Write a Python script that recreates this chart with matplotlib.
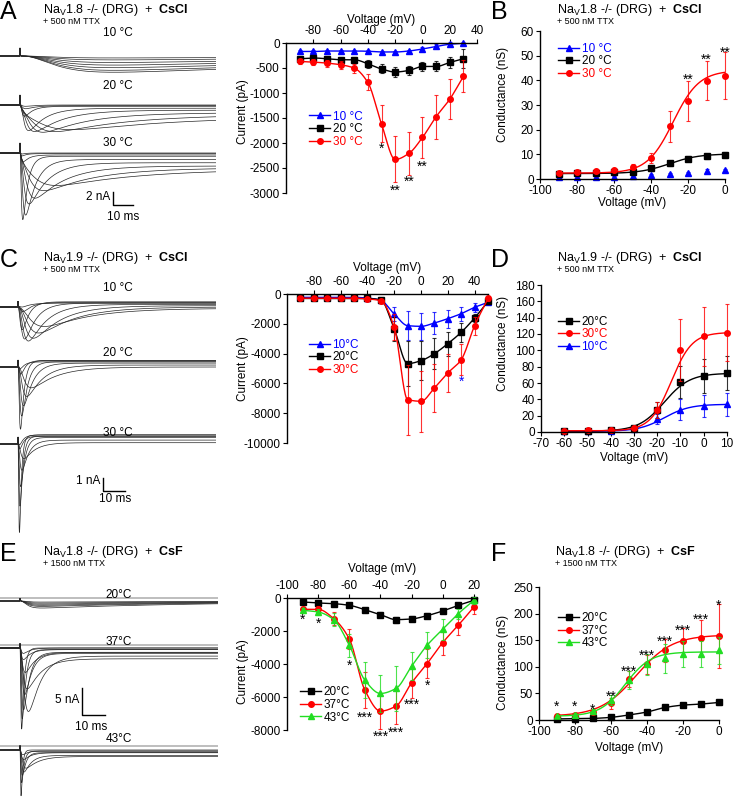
import numpy as np
import matplotlib
matplotlib.use("Agg")
import matplotlib.pyplot as plt
from matplotlib.lines import Line2D

plt.rcParams.update({
    "font.family": ["Liberation Sans", "DejaVu Sans"],
    "font.size": 8,
    "mathtext.fontset": "custom",
    "mathtext.rm": "Liberation Sans",
    "mathtext.bf": "Liberation Sans:bold",
    "mathtext.it": "Liberation Sans:italic",
    "axes.unicode_minus": False,
    "axes.linewidth": 1.0,
    "xtick.major.size": 3, "ytick.major.size": 3,
    "xtick.major.pad": 1.5, "ytick.major.pad": 1.5,
})

# ---------------- data: current-voltage (pA) ----------------
a_v = [-90, -80, -70, -60, -50, -40, -30, -20, -10, 0, 10, 20, 30]
a_i10 = [-170, -170, -160, -160, -160, -165, -180, -180, -160, -120, -70, -25, -5]
a_i10_err = [20, 20, 20, 20, 20, 20, 25, 25, 25, 30, 40, 40, 30]
a_i20 = [-315, -300, -315, -335, -335, -415, -520, -580, -550, -470, -470, -390, -315]
a_i20_err = [40, 40, 40, 50, 60, 80, 90, 100, 90, 90, 100, 110, 190]
a_i30 = [-368, -382, -402, -435, -502, -790, -1620, -2330, -2210, -1890, -1475, -1125, -670]
a_i30_err = [50, 60, 70, 80, 90, 160, 370, 460, 430, 410, 440, 400, 320]
a_star_v = [-30, -20, -10, 0]
a_star_y = [-2056, -2880, -2712, -2398]
a_star_txt = ["*", "**", "**", "**"]

c_v = [-90, -80, -70, -60, -50, -40, -30, -20, -10, 0, 10, 20, 30, 40, 50]
c_i10 = [-224, -224, -224, -224, -224, -270, -425, -1340, -2125, -2170, -1946, -1655, -1320, -895, -560]
c_i10_err = [50, 50, 50, 50, 50, 60, 100, 500, 980, 900, 760, 600, 480, 280, 120]
c_i20 = [-300, -300, -300, -300, -300, -300, -400, -2350, -4675, -4475, -4005, -3335, -2570, -1610, -500]
c_i20_err = [50, 50, 50, 50, 50, 60, 100, 800, 1500, 1300, 1050, 800, 650, 300, 150]
c_i30 = [-280, -280, -280, -280, -280, -330, -450, -2215, -7090, -7200, -6310, -5300, -4410, -2125, -300]
c_i30_err = [50, 50, 50, 50, 60, 80, 120, 900, 2350, 2050, 1600, 1250, 1050, 600, 150]
c_star_v = [30]
c_star_y = [-5680]
c_star_txt = ["*"]

e_v = [-90, -80, -70, -60, -50, -40, -30, -20, -10, 0, 10, 20]
e_i20 = [-242, -302, -343, -443, -706, -1008, -1310, -1270, -1068, -786, -443, -141]
e_i20_err = [60, 60, 80, 80, 120, 150, 180, 150, 130, 120, 100, 80]
e_i37 = [-685, -685, -1250, -2480, -5585, -6855, -6552, -5141, -3972, -2702, -1653, -544]
e_i37_err = [150, 200, 400, 600, 1100, 1100, 1100, 900, 900, 750, 600, 400]
e_i43 = [-746, -847, -1310, -2863, -4980, -5786, -5484, -4133, -2863, -1895, -948, -141]
e_i43_err = [150, 200, 400, 700, 1100, 1100, 1350, 850, 800, 650, 300, 200]
e_star_v = [-90, -80, -60, -50, -40, -30, -20, -10]
e_star_y = [-1110, -1350, -3870, -7056, -8200, -7960, -6290, -5080]
e_star_txt = ["*", "*", "*", "***", "***", "***", "***", "*"]

# ---------------- data: conductance-voltage (nS) ----------------
b_v = [-90, -80, -70, -60, -50, -40, -30, -20, -10, 0]
b_g10 = [0.7, 0.7, 0.8, 0.9, 1.2, 1.6, 1.9, 2.3, 3.3, 3.5]
b_g10_err = [0.4, 0.4, 0.4, 0.4, 0.5, 0.5, 0.5, 0.5, 0.6, 0.6]
b_g20 = [2.2, 2.3, 2.5, 2.7, 3.0, 4.3, 6.3, 8.3, 9.3, 9.8]
b_g20_err = [0.4, 0.4, 0.5, 0.5, 0.6, 0.8, 1.0, 1.0, 1.0, 1.2]
b_g30 = [2.4, 2.8, 3.2, 3.6, 5.0, 8.6, 21.3, 31.7, 39.9, 41.8]
b_g30_err = [0.5, 0.6, 0.7, 0.8, 1.0, 2.0, 6.2, 8.2, 8.0, 9.5]
b_fit20 = (2.2, 10.2, -30, 8)      # gmin, gmax, V1/2, k
b_fit30 = (2.4, 44, -28, 7)
b_star_v = [-20, -10, 0]
b_star_y = [41.8, 49.7, 52.6]
b_star_txt = ["**", "**", "**"]

d_v = [-60, -50, -40, -30, -20, -10, 0, 10]
d_g20 = [1.5, 1.8, 2.5, 5.5, 27, 61.4, 68.3, 72]
d_g20_err = [0.5, 0.5, 0.8, 1.5, 10, 20, 21, 21]
d_g30 = [1.6, 2.0, 2.9, 5.3, 26.6, 100.7, 117, 121.5]
d_g30_err = [0.5, 0.6, 0.8, 1.5, 10, 38, 36, 35]
d_g10 = [0.8, 0.9, 1.5, 3.8, 16.4, 27.4, 31.9, 34]
d_g10_err = [0.3, 0.3, 0.5, 1, 6, 13, 14, 14]
d_fit20 = (1, 72, -17, 5.5)
d_fit30 = (1.5, 122, -14, 4.5)
d_fit10 = (0.8, 34, -17, 5.5)

f_v = [-90, -80, -70, -60, -50, -40, -30, -20, -10, 0]
f_g20 = [2, 2.5, 3, 5, 9.5, 15, 23.5, 28, 30, 33]
f_g20_err = [1, 1, 1, 1.5, 2, 2, 3, 3, 3.5, 4]
f_g37 = [7, 9.4, 14.4, 31.4, 76.6, 104.9, 130.7, 147.6, 155, 157.7]
f_g37_err = [2, 2.5, 4, 10, 15, 18, 22, 25, 33, 60]
f_g43 = [8, 10, 16, 37.7, 75.4, 105, 116, 123.7, 124.4, 130.7]
f_g43_err = [2, 2.5, 4, 10, 17, 20, 27, 25, 25, 25]
f_fit37 = (7, 160, -46, 10)
f_fit43 = (7, 128, -52, 7)
f_star_v = [-90, -80, -70, -60, -50, -40, -30, -20, -10, 0]
f_star_y = [31, 31, 25, 50, 97, 127, 154, 175, 194, 221]
f_star_txt = ["*", "*", "*", "**", "***", "***", "***", "***", "***", "*"]

# ---------------- data: example sweeps (nA, ms) ----------------
a_temps = ["10 \u00b0C", "20 \u00b0C", "30 \u00b0C"]
a_peak = [[0.3, 0.6, 1.0, 1.4, 1.8, 2.2, 2.5],
          [0.2, 0.5, 1.6, 3.5, 3.3, 3.0, 2.6, 2.0],
          [0.15, 0.4, 1.2, 10.0, 8.8, 6.5, 5.0, 3.5, 2.5]]
a_tau_m = [[12, 12, 12, 12, 12, 12, 12],
           [1.0, 1.0, 0.8, 1.5, 2.5, 4, 6, 9],
           [0.4, 0.4, 0.5, 0.5, 1.0, 1.5, 2.5, 4, 6]]
a_tau_h = [[200, 200, 200, 200, 200, 200, 200],
           [5, 5, 4, 8, 14, 22, 35, 50],
           [2, 2, 3, 2.5, 5, 9, 15, 25, 40]]
a_late = [[0, 0, 0, 0, 0, 0, 0],
          [0, -0.1, -0.2, -0.5, -0.8, -1.2, -1.5, -1.8],
          [0, -0.1, -0.3, -0.5, -1.0, -1.5, -2.0, -2.3, -2.5]]
a_cap = [1.2, 1.5, 1.5]

c_temps = ["10 \u00b0C", "20 \u00b0C", "30 \u00b0C"]
c_peak = [[0.2, 0.6, 2.0, 2.7, 2.8, 2.5, 2.0, 1.4],
          [0.3, 0.8, 5.0, 4.0, 3.2, 2.4, 1.6],
          [0.3, 0.6, 7.0, 5.0, 3.5, 2.2, 1.2]]
c_tau_m = [[1, 1, 0.8, 1.2, 1.8, 2.6, 3.5, 4.5],
           [0.5, 0.6, 0.5, 0.7, 1.0, 1.5, 2.2],
           [0.4, 0.4, 0.3, 0.4, 0.5, 0.7, 1.0]]
c_tau_h = [[4, 4, 3, 5, 8, 12, 16, 20],
           [2, 2, 1.5, 2.5, 4, 7, 11],
           [1.5, 1.5, 0.8, 1.2, 1.8, 3, 5]]
c_late = [[0.3, 0.35, 0.4, 0.3, 0.2, 0.1, 0.0, -0.1],
          [0.4, 0.5, 0.5, 0.4, 0.3, 0.15, 0.0],
          [0.7, 0.6, 0.7, 0.6, 0.5, 0.3, 0.1]]
c_cap = [0.5, 0.6, 0.6]

e_temps = ["20\u00b0C", "37\u00b0C", "43\u00b0C"]
e_peak = [[0.2, 0.4, 0.6, 0.8, 1.0, 1.3],
          [1, 2, 4, 6, 8, 10.5, 11, 13, 15],
          [0.8, 1.5, 2.5, 3.5, 4.5, 6, 8.5]]
e_tau_m = [[2, 2, 2, 2, 2, 2],
           [0.5, 0.5, 0.8, 1.0, 0.8, 1.5, 0.6, 0.4, 0.3],
           [0.4, 0.5, 0.8, 0.6, 0.4, 0.3, 0.2]]
e_tau_h = [[80, 80, 80, 80, 80, 80],
           [3, 3, 4, 6, 3, 5, 2.5, 1.5, 1.0],
           [2, 3, 5, 3, 1.5, 1.0, 0.6]]
e_late = [[0, 0, 0, 0, 0, 0],
          [0, -0.3, -0.8, -2.0, -1.0, -1.5, -0.8, -0.3, 0],
          [-0.2, -0.5, -1.2, -1.0, -0.5, -0.2, 0]]
e_cap = [0.5, 0.8, 0.8]

BLUE, BLACK, RED, GREEN = "#0000ff", "#000000", "#ff0000", "#22dd22"

W, H = 734, 805
fig = plt.figure(figsize=(W / 100, H / 100), dpi=100)


def rect(x0, y0, x1, y1):
    return [x0 / W, 1 - y1 / H, (x1 - x0) / W, (y1 - y0) / H]


def ftext(x, y, s, **kw):
    fig.text(x / W, 1 - y / H, s, **kw)


def pchip(x, y, xs):
    x = np.asarray(x, float)
    y = np.asarray(y, float)
    h = np.diff(x)
    d = np.diff(y) / h
    m = np.zeros_like(y)
    m[0], m[-1] = d[0], d[-1]
    for k in range(1, len(x) - 1):
        if d[k - 1] * d[k] > 0:
            w1 = 2 * h[k] + h[k - 1]
            w2 = h[k] + 2 * h[k - 1]
            m[k] = (w1 + w2) / (w1 / d[k - 1] + w2 / d[k])
    idx = np.clip(np.searchsorted(x, xs) - 1, 0, len(h) - 1)
    t = (xs - x[idx]) / h[idx]
    return ((2 * t**3 - 3 * t**2 + 1) * y[idx] + (t**3 - 2 * t**2 + t) * h[idx] * m[idx]
            + (-2 * t**3 + 3 * t**2) * y[idx + 1] + (t**3 - t**2) * h[idx] * m[idx + 1])


def boltz(v, p):
    g0, g1, vh, k = p
    return g0 + (g1 - g0) / (1 + np.exp((vh - v) / k))


def sweep(t, amp, tau_m, tau_h, late, cap):
    tt = np.clip(t, 0, None)
    g = (1 - np.exp(-tt / tau_m)) ** 3 * np.exp(-tt / tau_h)
    g = g / g.max()
    return -amp * g + late * (1 - np.exp(-tt / 2.0)) + cap * np.exp(-tt / 0.12) * (t > 0)


def header(y, letter, x_title, channel, salt, ttx, x_letter):
    ftext(x_letter, y + 2, letter, fontsize=18, va="center", ha="left")
    ftext(x_title, y, r"Na$_{\rm V}$" + channel + r" -/- (DRG)  +  $\bf{" + salt + "}$",
          fontsize=9, va="center")
    ftext(x_title, y + 11, "+ %s nM TTX" % ttx, fontsize=6.5, va="center")


def trace_column(box, step_px, ms_px, na_px, base_px, label_py, temps,
                 peak, tau_m, tau_h, late, cap, bar, gray_px=None):
    x0, y0, x1, y1 = box
    ax = fig.add_axes(rect(*box))
    ax.axis("off")
    ax.set_xlim((x0 - step_px) / ms_px, (x1 - step_px) / ms_px)
    ax.set_ylim(-(y1 - y0) / na_px, 0)
    t = np.arange((x0 - step_px) / ms_px, (x1 - step_px) / ms_px, 0.05)
    for g in range(len(temps)):
        off = -(base_px[g] - y0) / na_px
        if gray_px is not None:
            ax.axhline(-(gray_px[g] - y0) / na_px, color="0.7", lw=1.2)
        for a, tm, th, lt in zip(peak[g], tau_m[g], tau_h[g], late[g]):
            ax.plot(t, off + sweep(t, a, tm, th, lt, cap[g]), color="0.15", lw=0.5)
        ftext((x0 + x1) / 2 + 10, label_py[g], temps[g], fontsize=8.5, ha="center", va="center")
    bx, by, na, ms, na_lab, ms_lab, na_pos, ms_pos = bar
    tb = (bx - step_px) / ms_px
    yb = -(by - y0) / na_px
    ax.plot([tb, tb, tb + ms], [yb + na, yb, yb], color="black", lw=1)
    ftext(na_pos[0], na_pos[1], na_lab, fontsize=8.5, ha="right", va="center")
    ftext(ms_pos[0], ms_pos[1], ms_lab, fontsize=8.5, ha="center", va="center")


def add_series(ax, v, y, err, color, marker, line=None):
    ax.errorbar(v, y, yerr=err, fmt="none", ecolor=color, elinewidth=0.8,
                capsize=1.5, capthick=0.8, alpha=0.8, clip_on=False)
    if line == "pchip":
        vs = np.linspace(min(v), max(v), 300)
        ax.plot(vs, pchip(v, y, vs), color=color, lw=1)
    elif line is not None:
        vs = np.linspace(min(v), max(v), 300)
        ax.plot(vs, boltz(vs, line), color=color, lw=1)
    ax.plot(v, y, ls="none", marker=marker, ms=4, color=color, mec=color, clip_on=False)


def add_stars(ax, v, y, txt, color="black"):
    for vi, yi, s in zip(v, y, txt):
        ax.annotate(s, (vi, yi), xytext=(0, -2.5), textcoords="offset points", ha="center",
                    va="center", fontsize=10, color=color, annotation_clip=False)


def add_legend(ax, colors, markers, labels, anchor, colored_text=True):
    handles = [Line2D([], [], color=c, marker=m, ms=4, lw=1) for c, m in zip(colors, markers)]
    ax.legend(handles, labels, loc="upper left", bbox_to_anchor=anchor, frameon=False,
              fontsize=8.5, handlelength=1.8, handletextpad=0.2, labelspacing=0.05,
              borderpad=0, borderaxespad=0,
              labelcolor=colors if colored_text else "black")


def iv_axes(box, xlim, xticks, ylim, yticks, lab_x, lab_y, top_off):
    ax = fig.add_axes(rect(*box))
    ax.spines[["bottom", "right"]].set_visible(False)
    ax.xaxis.tick_top()
    ax.xaxis.set_label_position("top")
    ax.set_xlim(xlim)
    ax.set_ylim(ylim)
    ax.set_xticks(xticks)
    ax.set_yticks(yticks)
    ax.tick_params(labelsize=8.5)
    ax.set_xlabel("Voltage (mV)", fontsize=8.5)
    ax.set_ylabel("Current (pA)", fontsize=8.5)
    ax.xaxis.set_label_coords(0.5, 1 + top_off)
    ax.xaxis.label.set_va("center")
    ax.yaxis.set_label_coords(lab_x, lab_y)
    ax.yaxis.label.set_va("center")
    return ax


def g_axes(box, xlim, xticks, ylim, yticks, lab_x, lab_y, bot_off):
    ax = fig.add_axes(rect(*box))
    ax.spines[["top", "right"]].set_visible(False)
    ax.set_xlim(xlim)
    ax.set_ylim(ylim)
    ax.set_xticks(xticks)
    ax.set_yticks(yticks)
    ax.tick_params(labelsize=8.5)
    ax.set_xlabel("Voltage (mV)", fontsize=8.5)
    ax.set_ylabel("Conductance (nS)", fontsize=8.5)
    ax.xaxis.set_label_coords(0.5, -bot_off)
    ax.xaxis.label.set_va("center")
    ax.yaxis.set_label_coords(lab_x, lab_y)
    ax.yaxis.label.set_va("center")
    return ax


# ---------------- headers ----------------
header(10, "A", 43, "1.8", "CsCl", "500", 0)
header(10, "B", 557, "1.8", "CsCl", "500", 491)
header(258, "C", 43, "1.9", "CsCl", "500", 0)
header(258, "D", 557, "1.9", "CsCl", "500", 491)
header(552, "E", 43, "1.8", "CsF", "1500", 0)
header(552, "F", 555, "1.8", "CsF", "1500", 491)

# ---------------- sweeps ----------------
trace_column((0, 30, 216, 230), 20, 2.0, 6.5, [56, 105, 153], [33, 86, 143], a_temps,
             a_peak, a_tau_m, a_tau_h, a_late, a_cap,
             (113, 205, 2, 10, "2 nA", "10 ms", (110, 197), (123, 217)))
trace_column((0, 285, 216, 545), 18, 2.2, 13, [307, 367, 444], [288, 353, 433], c_temps,
             c_peak, c_tau_m, c_tau_h, c_late, c_cap,
             (103, 491, 1, 10, "1 nA", "10 ms", (100, 481), (115, 499)))
trace_column((0, 590, 218, 805), 20, 2.3, 5.4, [601, 648, 750], [595, 642, 739], e_temps,
             e_peak, e_tau_m, e_tau_h, e_late, e_cap,
             (82, 715, 5, 10, "5 nA", "10 ms", (79, 700), (91, 727)), gray_px=[598, 645, 746])

# ---------------- A: I-V ----------------
ax = iv_axes((286, 43, 477, 193), (-100, 40), range(-80, 41, 20), (-3000, 0),
             range(-3000, 1, 500), -0.225, 0.54, 23 / 150)
add_series(ax, a_v, a_i10, a_i10_err, BLUE, "^", "pchip")
add_series(ax, a_v, a_i20, a_i20_err, BLACK, "s", "pchip")
add_series(ax, a_v, a_i30, a_i30_err, RED, "o", "pchip")
add_stars(ax, a_star_v, a_star_y, a_star_txt)
add_legend(ax, [BLUE, BLACK, RED], ["^", "s", "o"], a_temps, (0.12, 0.55))

# ---------------- B: G-V ----------------
ax = g_axes((540, 31, 725, 179), (-100, 0), range(-100, 1, 20), (0, 60), range(0, 61, 10),
            -0.2, 0.57, 24 / 148)
add_series(ax, b_v, b_g10, b_g10_err, BLUE, "^")
add_series(ax, b_v, b_g20, b_g20_err, BLACK, "s", b_fit20)
add_series(ax, b_v, b_g30, b_g30_err, RED, "o", b_fit30)
add_stars(ax, b_star_v, b_star_y, b_star_txt)
add_legend(ax, [BLUE, BLACK, RED], ["^", "s", "o"], a_temps, (0.097, 0.92))

# ---------------- C: I-V ----------------
ax = iv_axes((287, 294, 488, 443), (-100, 50), range(-80, 41, 20), (-10000, 0),
             range(-10000, 1, 2000), -0.219, 0.50, 26 / 149)
add_series(ax, c_v, c_i10, c_i10_err, BLUE, "^", "pchip")
add_series(ax, c_v, c_i20, c_i20_err, BLACK, "s", "pchip")
add_series(ax, c_v, c_i30, c_i30_err, RED, "o", "pchip")
add_stars(ax, c_star_v, c_star_y, c_star_txt, color=BLUE)
add_legend(ax, [BLUE, BLACK, RED], ["^", "s", "o"], ["10\u00b0C", "20\u00b0C", "30\u00b0C"],
           (0.109, 0.70))

# ---------------- D: G-V ----------------
ax = g_axes((541, 285, 727, 432), (-70, 10), range(-70, 11, 10), (0, 180), range(0, 181, 20),
            -0.204, 0.605, 26 / 147)
add_series(ax, d_v, d_g10, d_g10_err, BLUE, "^", d_fit10)
add_series(ax, d_v, d_g20, d_g20_err, BLACK, "s", d_fit20)
add_series(ax, d_v, d_g30, d_g30_err, RED, "o", d_fit30)
add_legend(ax, [BLACK, RED, BLUE], ["s", "o", "^"], ["20\u00b0C", "30\u00b0C", "10\u00b0C"],
           (0.091, 0.79))

# ---------------- E: I-V ----------------
ax = iv_axes((287, 598, 477, 730), (-100, 22), range(-100, 21, 20), (-8000, 0),
             range(-8000, 1, 2000), -0.232, 0.44, 29 / 132)
add_series(ax, e_v, e_i20, e_i20_err, BLACK, "s", "pchip")
add_series(ax, e_v, e_i37, e_i37_err, RED, "o", "pchip")
add_series(ax, e_v, e_i43, e_i43_err, GREEN, "^", "pchip")
add_stars(ax, e_star_v, e_star_y, e_star_txt)
add_legend(ax, [BLACK, RED, GREEN], ["s", "o", "^"], e_temps, (0.068, 0.33), colored_text=False)

# ---------------- F: G-V ----------------
ax = g_axes((539, 587, 719, 720), (-100, 0), range(-100, 1, 20), (0, 250), range(0, 251, 50),
            -0.2, 0.43, 28 / 133)
add_series(ax, f_v, f_g20, f_g20_err, BLACK, "s", "pchip")
add_series(ax, f_v, f_g37, f_g37_err, RED, "o", f_fit37)
add_series(ax, f_v, f_g43, f_g43_err, GREEN, "^", f_fit43)
add_stars(ax, f_star_v, f_star_y, f_star_txt)
add_legend(ax, [BLACK, RED, GREEN], ["s", "o", "^"], e_temps, (0.106, 0.81), colored_text=False)

fig.savefig("out.png", dpi=100)
